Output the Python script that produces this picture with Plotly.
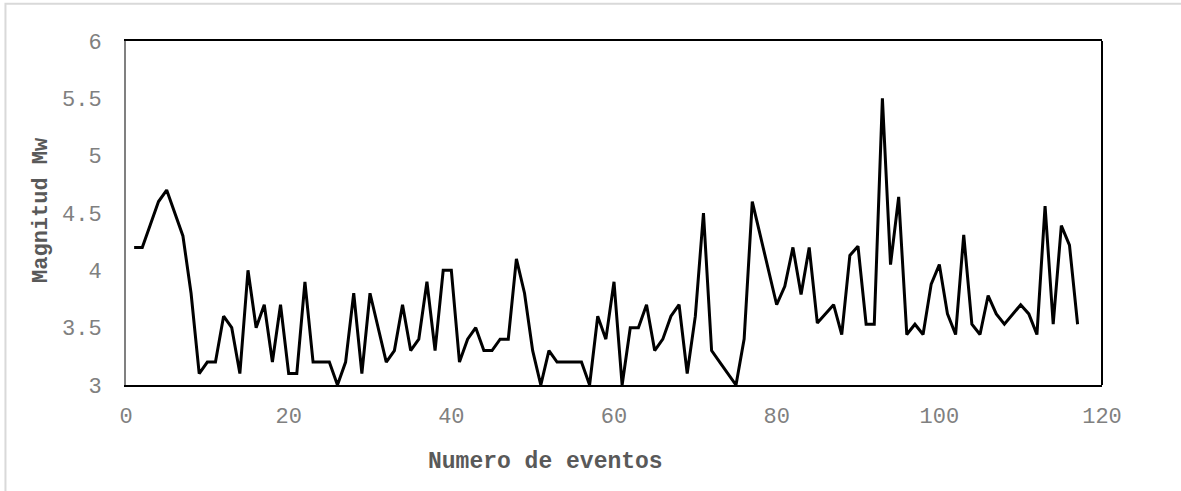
import plotly.graph_objects as go

eventos = list(range(1, 118))
magnitud = [
    4.2, 4.2, 4.4, 4.6, 4.7, 4.5, 4.3, 3.8, 3.1, 3.2,
    3.2, 3.6, 3.5, 3.1, 4.0, 3.5, 3.7, 3.2, 3.7, 3.1,
    3.1, 3.9, 3.2, 3.2, 3.2, 3.0, 3.2, 3.8, 3.1, 3.8,
    3.5, 3.2, 3.3, 3.7, 3.3, 3.4, 3.9, 3.3, 4.0, 4.0,
    3.2, 3.4, 3.5, 3.3, 3.3, 3.4, 3.4, 4.1, 3.8, 3.3,
    3.0, 3.3, 3.2, 3.2, 3.2, 3.2, 3.0, 3.6, 3.4, 3.9,
    3.0, 3.5, 3.5, 3.7, 3.3, 3.4, 3.6, 3.7, 3.1, 3.6,
    4.5, 3.3, 3.2, 3.1, 3.0, 3.4, 4.6, 4.3, 4.0, 3.7,
    3.86, 4.2, 3.79, 4.2, 3.54, 3.62, 3.7, 3.44, 4.13, 4.21,
    3.53, 3.53, 5.5, 4.05, 4.64, 3.44, 3.53, 3.44, 3.88, 4.05,
    3.62, 3.44, 4.31, 3.53, 3.44, 3.78, 3.62, 3.53, 3.62, 3.7,
    3.62, 3.44, 4.56, 3.53, 4.39, 4.22, 3.53,
]
x_ticks = [0, 20, 40, 60, 80, 100, 120]
y_ticks = [3, 3.5, 4, 4.5, 5, 5.5, 6]

FONT = "Courier New, Liberation Mono, monospace"

fig = go.Figure()
fig.add_trace(go.Scatter(
    x=eventos, y=magnitud, mode="lines",
    line=dict(color="black", width=3),
    showlegend=False, hoverinfo="x+y",
))

fig.update_layout(
    width=1181, height=491,
    margin=dict(l=126, r=79, t=41, b=106),
    paper_bgcolor="white", plot_bgcolor="white",
    font=dict(family=FONT, size=22, color="#7f7f7f"),
    xaxis=dict(
        range=[0, 120], tickvals=x_ticks, ticks="", showgrid=False,
        zeroline=False, showline=True, linecolor="black", linewidth=2,
        mirror=True, ticklabelstandoff=10,
        tickfont=dict(family=FONT, size=22, color="#808080"),
    ),
    yaxis=dict(
        range=[3, 6], tickvals=y_ticks, ticks="", showgrid=False,
        zeroline=False, showline=True, linecolor="#808080", linewidth=2,
        ticklabelstandoff=18,
        tickfont=dict(family=FONT, size=22, color="#808080"),
    ),
    shapes=[
        dict(type="line", xref="paper", yref="paper", x0=1, x1=1, y0=0, y1=1,
             line=dict(color="black", width=2)),
        dict(type="rect", xref="paper", yref="paper",
             x0=-0.1235, x1=1.1, y0=-0.35, y1=1.108,
             line=dict(color="#d9d9d9", width=2), layer="below"),
    ],
    annotations=[
        dict(text="<b>Numero de eventos</b>", xref="paper", yref="paper",
             x=0.43, y=-0.224, xanchor="center", yanchor="middle",
             showarrow=False, font=dict(family=FONT, size=23, color="#595959")),
        dict(text="<b>Magnitud Mw</b>", xref="paper", yref="paper",
             x=-0.086, y=0.509, xanchor="center", yanchor="middle",
             textangle=-90, showarrow=False,
             font=dict(family=FONT, size=22, color="#595959")),
    ],
)

fig.write_html(
    "out.html",
    config={"displayModeBar": False},
    post_script="document.body.style.margin='0';document.body.style.overflow='hidden';",
)
